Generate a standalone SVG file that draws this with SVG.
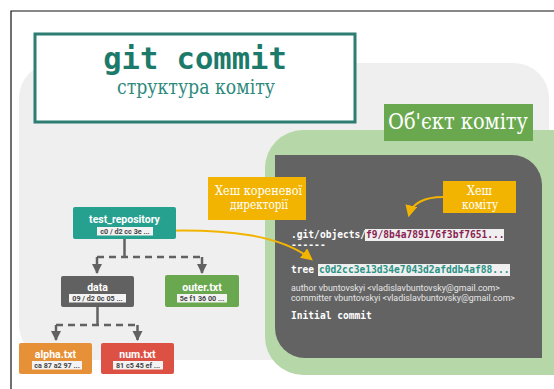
<svg xmlns="http://www.w3.org/2000/svg" width="554" height="389" viewBox="0 0 554 389">
<defs>
<style>
.serif{font-family:"DejaVu Serif","Liberation Serif","Times New Roman",serif;fill:#fff}
.mono{font-family:"DejaVu Sans Mono","Liberation Mono",monospace;font-weight:bold}
.node-label{font-family:Roboto,"Liberation Sans",sans-serif;font-weight:bold;font-size:10.5px;fill:#fff;text-anchor:middle}
.hash-box{fill:#f3f3f3}
.hash{font-family:Roboto,"Liberation Sans",sans-serif;font-weight:bold;font-size:7.2px;fill:#444;text-anchor:middle}
.tree-line{fill:none;stroke:#616161;stroke-width:2.5}
.dash{stroke-dasharray:7,5}
.orange-line{fill:none;stroke:#f2b400;stroke-width:2}
</style>
<marker id="ah-gray" viewBox="0 0 10 10" refX="9" refY="5" markerWidth="4.2" markerHeight="4.2" orient="auto" markerUnits="strokeWidth">
<path d="M0,0 L10,5 L0,10 Z" fill="#616161"/>
</marker>
<marker id="ah-orange" viewBox="0 0 10 10" refX="8" refY="5" markerWidth="6" markerHeight="6" orient="auto" markerUnits="strokeWidth">
<path d="M0,0 L10,5 L0,10 Z" fill="#f2b400"/>
</marker>
</defs>
<rect x="0" y="0" width="554" height="389" fill="#fff"/>
<path d="M11,389 V11 H554" fill="none" stroke="#111" stroke-width="1.2"/>
<rect x="19" y="63" width="530" height="297" rx="35" fill="#efefef"/>

<g id="title">
<rect x="35" y="34" width="320" height="88" fill="#fff" stroke="#2d7d72" stroke-width="3"/>
<text x="195" y="69" class="mono" font-size="30.5" fill="#1c7a6b" text-anchor="middle">git commit</text>
<text x="117" y="94" class="serif" font-size="21" style="fill:#2d8a7c" textLength="158" lengthAdjust="spacingAndGlyphs">структура коміту</text>
</g>

<g id="commit-object">
<rect x="265" y="130" width="330" height="245" rx="38" fill="#b6d7a8"/>
<path d="M275,155 H512 A30,30 0 0 1 542,185 V358 H305 A30,30 0 0 1 275,328 Z" fill="#636363"/>
<rect x="384" y="104" width="149" height="37" fill="#6aa84f"/>
<text x="388" y="129" class="serif" font-size="22" textLength="140" lengthAdjust="spacingAndGlyphs">Об'єкт коміту</text>
<text x="291" y="238" class="mono" font-size="9.6" fill="#fff">.git/objects/</text>
<rect x="365" y="229" width="139" height="12" fill="#efefef"/>
<text x="366" y="238" class="mono" font-size="9.6" fill="#8a1f52">f9/8b4a789176f3bf7651...</text>
<text x="291" y="248" class="mono" font-size="9.6" fill="#fff">------</text>
<text x="291" y="273" class="mono" font-size="9.6" fill="#fff">tree</text>
<rect x="318" y="264" width="192" height="12" fill="#efefef"/>
<text x="319" y="273" class="mono" font-size="9.6" fill="#2a9184">c0d2cc3e13d34e7043d2afddb4af88...</text>
<text x="291" y="291" font-family="Roboto,Liberation Sans,sans-serif" font-size="8.3" fill="#e6e6e6" textLength="209" lengthAdjust="spacingAndGlyphs">author vbuntovskyi &lt;vladislavbuntovsky@gmail.com&gt;</text>
<text x="291" y="301" font-family="Roboto,Liberation Sans,sans-serif" font-size="8.3" fill="#e6e6e6" textLength="224" lengthAdjust="spacingAndGlyphs">committer vbuntovskyi &lt;vladislavbuntovsky@gmail.com&gt;</text>
<text x="291" y="319" class="mono" font-size="9.6" fill="#fff">Initial commit</text>
</g>

<g id="root-hash-label">
<rect x="208" y="177" width="98" height="43" fill="#f2b400"/>
<text x="215" y="195" class="serif" font-size="13" textLength="87" lengthAdjust="spacingAndGlyphs">Хеш кореневої</text>
<text x="230" y="208.5" class="serif" font-size="13" textLength="58" lengthAdjust="spacingAndGlyphs">директорії</text>
</g>

<g id="commit-hash-label">
<rect x="443" y="181" width="73" height="32" fill="#f2b400"/>
<text x="467" y="195" class="serif" font-size="13" textLength="25" lengthAdjust="spacingAndGlyphs">Хеш</text>
<text x="462" y="208.5" class="serif" font-size="13" textLength="36" lengthAdjust="spacingAndGlyphs">коміту</text>
</g>

<g id="connectors">
<path class="tree-line" d="M124.5,239 V257"/>
<path class="tree-line dash" d="M97,257 H202"/>
<path class="tree-line" d="M97,257 V273" marker-end="url(#ah-gray)"/>
<path class="tree-line" d="M202,257 V273" marker-end="url(#ah-gray)"/>
<path class="tree-line" d="M97.5,307 V325"/>
<path class="tree-line dash" d="M56,325 H137"/>
<path class="tree-line" d="M56,325 V340" marker-end="url(#ah-gray)"/>
<path class="tree-line" d="M137.5,325 V340" marker-end="url(#ah-gray)"/>
<path class="orange-line" d="M154,231 C230,228 282,236 311,259" marker-end="url(#ah-orange)"/>
<path class="orange-line" d="M443,197 C425,197 412,203 409,215" marker-end="url(#ah-orange)"/>
</g>

<g id="node-test_repository">
<rect x="73" y="207" width="103" height="32" rx="2" fill="#26a08f"/>
<text x="124.5" y="223" class="node-label">test_repository</text>
<rect x="97" y="227" width="56" height="8.5" class="hash-box"/>
<text x="125" y="234" class="hash">c0 / d2 cc 3e ...</text>
</g>
<g id="node-data">
<rect x="61" y="276" width="73" height="31" rx="2" fill="#616161"/>
<text x="97.5" y="291" class="node-label">data</text>
<rect x="69" y="294" width="57" height="8.5" class="hash-box"/>
<text x="97.5" y="301" class="hash">09 / d2 0c 05 ...</text>
</g>
<g id="node-outer">
<rect x="165" y="275" width="74" height="32" rx="2" fill="#6aa84f"/>
<text x="202" y="291" class="node-label">outer.txt</text>
<rect x="177" y="294" width="50" height="8.5" class="hash-box"/>
<text x="202" y="301" class="hash">5e f1 36 00 ...</text>
</g>
<g id="node-alpha">
<rect x="19" y="343" width="73" height="31" rx="2" fill="#e69138"/>
<text x="55.5" y="358" class="node-label">alpha.txt</text>
<rect x="32" y="361" width="50" height="8.5" class="hash-box"/>
<text x="57" y="368" class="hash">ca 87 a2 97 ...</text>
</g>
<g id="node-num">
<rect x="101" y="343" width="73" height="31" rx="2" fill="#dd5144"/>
<text x="137.5" y="358" class="node-label">num.txt</text>
<rect x="113" y="361" width="50" height="8.5" class="hash-box"/>
<text x="138" y="368" class="hash">81 c5 45 ef ...</text>
</g>
</svg>
